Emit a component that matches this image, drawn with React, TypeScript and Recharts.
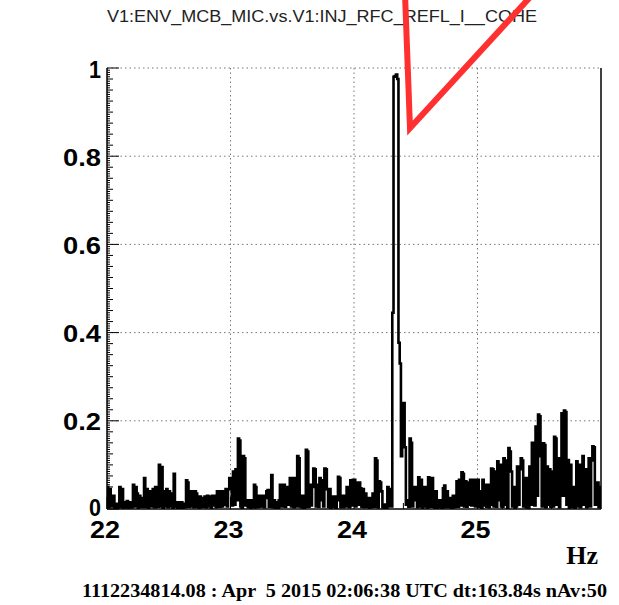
import React from "react";
import { LineChart, Line, XAxis, YAxis, CartesianGrid, ReferenceLine } from "recharts";

// Frequency grid (Hz) and coherence values, 0.01 Hz bins
const FREQ_START = 22;
const FREQ_STEP = 0.01;
const coherence: number[] = [
  0.05, 0.004, 0.045, 0.03, 0.006, 0.03, 0.003, 0.012, 0.002, 0.01,
  0.05, 0.004, 0.045, 0.002, 0.015, 0.004, 0.018, 0.003, 0.015, 0.005,
  0.004, 0.055, 0.006, 0.05, 0.035, 0.003, 0.03, 0.005, 0.025, 0.004,
  0.07, 0.005, 0.045, 0.003, 0.04, 0.006, 0.035, 0.045, 0.004, 0.05,
  0.035, 0.005, 0.1, 0.006, 0.095, 0.003, 0.04, 0.006, 0.045, 0.004,
  0.04, 0.006, 0.035, 0.002, 0.08, 0.005, 0.015, 0.002, 0.015, 0.002,
  0.015, 0.002, 0.012, 0.004, 0.065, 0.06, 0.005, 0.04, 0.006, 0.04,
  0.004, 0.04, 0.035, 0.005, 0.003, 0.028, 0.004, 0.025, 0.005, 0.028,
  0.004, 0.03, 0.006, 0.028, 0.003, 0.03, 0.008, 0.03, 0.004, 0.04,
  0.035, 0.005, 0.04, 0.006, 0.04, 0.01, 0.045, 0.006, 0.045, 0.07,
  0.07, 0.008, 0.085, 0.01, 0.09, 0.02, 0.16, 0.155, 0.006, 0.003,
  0.12, 0.115, 0.008, 0.02, 0.004, 0.02, 0.003, 0.02, 0.004, 0.055,
  0.05, 0.004, 0.03, 0.005, 0.03, 0.006, 0.03, 0.004, 0.025, 0.04,
  0.043, 0.005, 0.04, 0.077, 0.004, 0.02, 0.002, 0.015, 0.003, 0.02,
  0.055, 0.006, 0.05, 0.055, 0.005, 0.05, 0.01, 0.045, 0.07, 0.006,
  0.07, 0.004, 0.07, 0.006, 0.12, 0.115, 0.006, 0.004, 0.03, 0.002,
  0.004, 0.134, 0.13, 0.005, 0.055, 0.008, 0.05, 0.092, 0.09, 0.006,
  0.055, 0.005, 0.07, 0.02, 0.065, 0.006, 0.092, 0.09, 0.045, 0.005,
  0.045, 0.003, 0.028, 0.005, 0.028, 0.002, 0.02, 0.073, 0.07, 0.004,
  0.03, 0.004, 0.03, 0.006, 0.05, 0.045, 0.004, 0.065, 0.008, 0.066,
  0.066, 0.006, 0.06, 0.01, 0.06, 0.047, 0.005, 0.045, 0.004, 0.035,
  0.005, 0.025, 0.002, 0.025, 0.004, 0.035, 0.005, 0.115, 0.11, 0.004,
  0.063, 0.06, 0.04, 0.004, 0.003, 0.01, 0.002, 0.05, 0.006, 0.045,
  0.006, 0.445, 0.98, 0.982, 0.985, 0.975, 0.377, 0.33, 0.12, 0.24,
  0.24, 0.14, 0.01, 0.02, 0.005, 0.16, 0.15, 0.006, 0.02, 0.05,
  0.05, 0.004, 0.072, 0.006, 0.066, 0.003, 0.05, 0.006, 0.05, 0.003,
  0.072, 0.07, 0.005, 0.07, 0.04, 0.003, 0.04, 0.002, 0.02, 0.004,
  0.02, 0.002, 0.047, 0.053, 0.004, 0.04, 0.006, 0.004, 0.025, 0.003,
  0.03, 0.004, 0.03, 0.063, 0.005, 0.066, 0.008, 0.083, 0.08, 0.006,
  0.063, 0.005, 0.06, 0.01, 0.066, 0.008, 0.02, 0.066, 0.006, 0.066,
  0.066, 0.005, 0.04, 0.002, 0.066, 0.008, 0.055, 0.005, 0.055, 0.004,
  0.01, 0.092, 0.09, 0.006, 0.085, 0.005, 0.108, 0.02, 0.1, 0.006,
  0.005, 0.115, 0.01, 0.11, 0.003, 0.138, 0.13, 0.085, 0.006, 0.05,
  0.002, 0.006, 0.096, 0.01, 0.09, 0.115, 0.11, 0.006, 0.07, 0.004,
  0.07, 0.003, 0.096, 0.01, 0.15, 0.145, 0.008, 0.187, 0.03, 0.214,
  0.21, 0.12, 0.006, 0.149, 0.145, 0.004, 0.096, 0.01, 0.09, 0.005,
  0.085, 0.006, 0.164, 0.16, 0.01, 0.115, 0.004, 0.08, 0.217, 0.03,
  0.223, 0.22, 0.01, 0.111, 0.003, 0.1, 0.005, 0.05, 0.002, 0.03,
  0.108, 0.006, 0.1, 0.004, 0.03, 0.12, 0.01, 0.09, 0.004, 0.03,
  0.115, 0.006, 0.11, 0.142, 0.14, 0.01, 0.03, 0.06, 0.004, 0.05,
];

const xMajorTicks = [22, 23, 24, 25];
const xMinorStep = 0.2;
const yMajorTicks = [0, 0.2, 0.4, 0.6, 0.8, 1];
const yLabels = ["0", "0.2", "0.4", "0.6", "0.8", "1"];
const xLabels = ["22", "23", "24", "25"];

const titleText = "V1:ENV_MCB_MIC.vs.V1:INJ_RFC_REFL_I__COHE";
const unitText = "Hz";
const footerText = "1112234814.08 : Apr  5 2015 02:06:38 UTC dt:163.84s nAv:50";

const data = coherence.map((c, i) => ({ f: +(FREQ_START + i * FREQ_STEP).toFixed(2), c }));
data.push({ f: 26, c: coherence[coherence.length - 1] });

// all y tick positions (0.005 steps), drawn with custom lengths
const yAllTicks: number[] = [];
for (let k = 0; k <= 200; k++) yAllTicks.push(k / 200);
const xAllTicks: number[] = [];
for (let k = 0; k < 20; k++) xAllTicks.push(+(22 + k * xMinorStep).toFixed(1));

const SANS = "'Liberation Sans', Arial, Helvetica, sans-serif";
const SERIF = "'Liberation Serif', 'Times New Roman', serif";

const YTick = (props: any) => {
  const { x, y, payload } = props;
  const k = Math.round(payload.value * 1000);
  const major = k % 200 === 0;
  const len = major ? 12 : k % 25 === 0 ? 6 : 3;
  const idx = yMajorTicks.findIndex((t) => Math.round(t * 1000) === k);
  const label = idx >= 0 ? yLabels[idx] : "";
  return (
    <g>
      <line x1={x} x2={x + len} y1={y} y2={y} stroke="#000" strokeWidth={1} />
      {major && idx >= 0 ? (
        <text
          x={x - 6}
          y={k === 0 ? y - 2 : y + 1}
          textAnchor="end"
          dominantBaseline="central"
          fontFamily={SANS}
          fontWeight="bold"
          fontSize={24}
          fill="#000"
          textLength={label.length > 1 ? 38 : 12}
          lengthAdjust="spacingAndGlyphs"
        >
          {label}
        </text>
      ) : null}
    </g>
  );
};

const XTick = (props: any) => {
  const { x, y, payload } = props;
  const v = payload.value;
  const idx = xMajorTicks.findIndex((t) => Math.abs(t - v) < 1e-6);
  const major = idx >= 0;
  const len = major ? 12 : 6;
  return (
    <g>
      <line x1={x} x2={x} y1={y} y2={y - len} stroke="#000" strokeWidth={1} />
      {major ? (
        <text
          x={x - 2}
          y={y + 29}
          textAnchor="middle"
          fontFamily={SANS}
          fontWeight="bold"
          fontSize={24}
          fill="#000"
          textLength={30}
          lengthAdjust="spacingAndGlyphs"
        >
          {xLabels[idx]}
        </text>
      ) : null}
    </g>
  );
};

export default function App() {
  return (
    <div style={{ position: "absolute", left: 0, top: 0, width: 619, height: 605, background: "#fff" }}>
      <LineChart
        width={619}
        height={605}
        data={data}
        margin={{ top: 68, right: 18, bottom: 56, left: 0 }}
      >
        <CartesianGrid
          stroke="#777"
          strokeDasharray="1.5 3"
          horizontalValues={[0.2, 0.4, 0.6, 0.8, 1]}
          verticalValues={[23, 24, 25]}
        />
        <XAxis
          dataKey="f"
          type="number"
          domain={[22, 26]}
          ticks={xAllTicks}
          interval={0}
          tickSize={0}
          tickMargin={0}
          tickLine={false}
          tick={<XTick />}
          axisLine={{ stroke: "#000", strokeWidth: 1.5 }}
          height={40}
          allowDataOverflow
        />
        <YAxis
          type="number"
          domain={[0, 1]}
          ticks={yAllTicks}
          interval={0}
          tickSize={0}
          tickMargin={0}
          tickLine={false}
          tick={<YTick />}
          axisLine={{ stroke: "#000", strokeWidth: 1.5 }}
          width={107}
          allowDataOverflow
        />
        <ReferenceLine x={26} stroke="#000" strokeWidth={1.5} />
        <Line
          type="stepAfter"
          dataKey="c"
          stroke="#000"
          strokeWidth={2.6}
          strokeLinejoin="miter"
          dot={false}
          isAnimationActive={false}
        />
      </LineChart>
      <svg
        width={619}
        height={605}
        style={{ position: "absolute", left: 0, top: 0, pointerEvents: "none" }}
      >
        <text
          x={322}
          y={22}
          textAnchor="middle"
          fontFamily={SANS}
          fontSize={16}
          fill="#222"
          textLength={430}
          lengthAdjust="spacingAndGlyphs"
        >
          {titleText}
        </text>
        <text
          x={598}
          y={564}
          textAnchor="end"
          fontFamily={SERIF}
          fontWeight="bold"
          fontSize={26}
          fill="#000"
        >
          {unitText}
        </text>
        <text
          x={82}
          y={597}
          textAnchor="start"
          fontFamily={SERIF}
          fontWeight="bold"
          fontSize={19}
          fill="#000"
          textLength={525}
          lengthAdjust="spacingAndGlyphs"
          style={{ whiteSpace: "pre" }}
          xmlSpace="preserve"
        >
          {footerText}
        </text>
        <polyline
          points="405,-6 410,128 533,-6"
          fill="none"
          stroke="#ff3030"
          strokeWidth={6}
          strokeLinejoin="miter"
        />
      </svg>
    </div>
  );
}
